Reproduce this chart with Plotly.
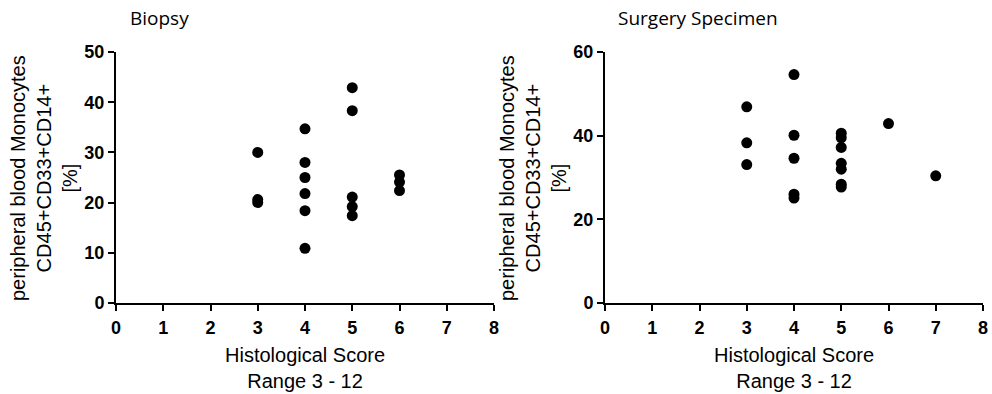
import plotly.graph_objects as go

# Biopsy data
biopsy_score = [3, 3, 3, 4, 4, 4, 4, 4, 4, 5, 5, 5, 5, 5, 6, 6, 6]
biopsy_mono = [30.0, 20.0, 20.6, 34.7, 28.0, 25.0, 21.8, 18.4, 10.9, 42.9, 38.3, 21.1, 19.2, 17.4, 25.5, 24.1, 22.4]

# Surgery specimen data
surgery_score = [3, 3, 3, 4, 4, 4, 4, 4, 5, 5, 5, 5, 5, 5, 5, 6, 7]
surgery_mono = [46.9, 38.3, 33.1, 54.6, 40.1, 34.6, 26.0, 25.1, 40.6, 39.5, 37.2, 33.4, 32.0, 28.4, 27.7, 42.9, 30.4]

x_ticks = [0, 1, 2, 3, 4, 5, 6, 7, 8]
left_yticks = [0, 10, 20, 30, 40, 50]
right_yticks = [0, 20, 40, 60]

W, H = 992, 394
def px_x(p): return p / W
def px_y(p): return 1 - p / H

fig = go.Figure()
marker = dict(color="black", size=11)
fig.add_trace(go.Scatter(x=biopsy_score, y=biopsy_mono, mode="markers", marker=marker,
                         xaxis="x", yaxis="y", cliponaxis=False, showlegend=False))
fig.add_trace(go.Scatter(x=surgery_score, y=surgery_mono, mode="markers", marker=marker,
                         xaxis="x2", yaxis="y2", cliponaxis=False, showlegend=False))

tickfont = dict(family="Arial", size=18, color="black", weight="bold")
axis_common = dict(showline=True, linecolor="black", linewidth=2, ticks="outside",
                   ticklen=6, tickwidth=2, tickcolor="black", showgrid=False,
                   zeroline=False, tickfont=tickfont, automargin=False)

ydom = [px_y(303), px_y(52)]
fig.update_layout(
    width=W, height=H,
    margin=dict(l=0, r=0, t=0, b=0),
    paper_bgcolor="white", plot_bgcolor="white",
    font=dict(family="Arial"),
    xaxis=dict(domain=[px_x(116), px_x(494)], range=[0, 8], tickvals=x_ticks,
               anchor="y", ticklabelstandoff=1, **axis_common),
    yaxis=dict(domain=ydom, range=[0, 50], tickvals=left_yticks, anchor="x", **axis_common),
    xaxis2=dict(domain=[px_x(605), px_x(983)], range=[0, 8], tickvals=x_ticks,
                anchor="y2", ticklabelstandoff=1, **axis_common),
    yaxis2=dict(domain=ydom, range=[0, 60], tickvals=right_yticks, anchor="x2", **axis_common),
)

title_font = dict(family="Open Sans", size=19, color="black")
label_font = dict(family="Arial", size=20, color="black")
ytitle = "peripheral blood Monocytes<br>CD45+CD33+CD14+<br>[%]"
xtitle = "Histological Score<br>Range 3 - 12"
annots = [
    dict(text="Biopsy", x=px_x(128), y=px_y(18), xanchor="left", yanchor="middle", font=title_font),
    dict(text="Surgery Specimen", x=px_x(616), y=px_y(18), xanchor="left", yanchor="middle", font=title_font),
    dict(text=xtitle, x=px_x(305), y=px_y(368), xanchor="center", yanchor="middle", font=label_font),
    dict(text=xtitle, x=px_x(794), y=px_y(368), xanchor="center", yanchor="middle", font=label_font),
    dict(text=ytitle, x=px_x(44), y=px_y(178), xanchor="center", yanchor="middle", textangle=-90, font=label_font),
    dict(text=ytitle, x=px_x(533), y=px_y(178), xanchor="center", yanchor="middle", textangle=-90, font=label_font),
]
for a in annots:
    a.update(xref="paper", yref="paper", showarrow=False)
fig.update_layout(annotations=annots)

fig.write_html("out.html")
